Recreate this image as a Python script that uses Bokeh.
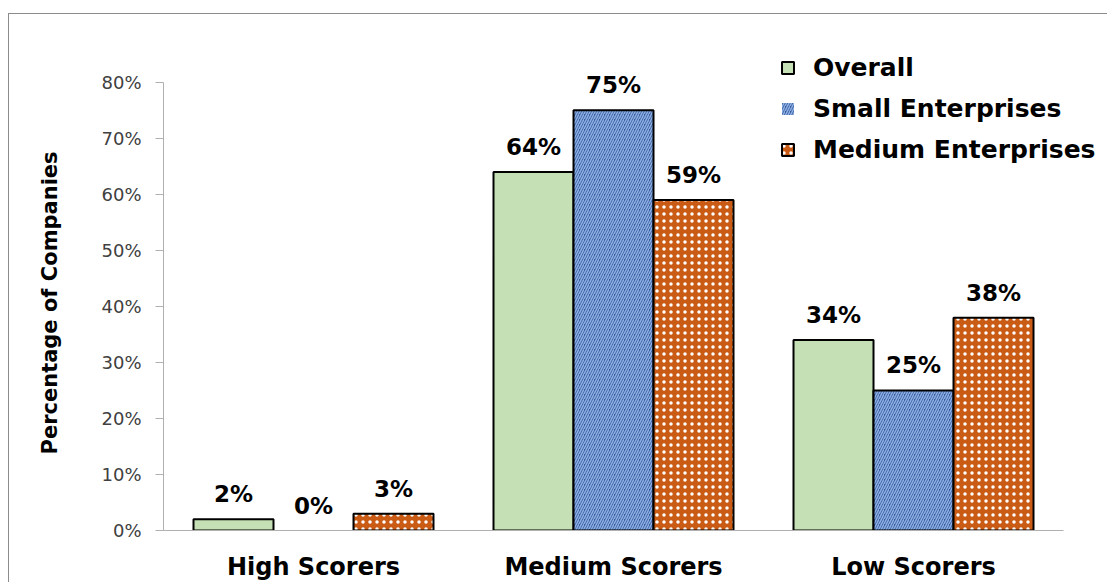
from bokeh.plotting import figure
from bokeh.models import ColumnDataSource, Range1d, Legend, LegendItem, NumeralTickFormatter, FixedTicker, Title
from bokeh.core.properties import value
from bokeh.embed import file_html
from bokeh.resources import INLINE

categories = ["High Scorers", "Medium Scorers", "Low Scorers"]
series = ["Overall", "Small Enterprises", "Medium Enterprises"]
overall = [0.02, 0.64, 0.34]
small = [0.00, 0.75, 0.25]
medium = [0.03, 0.59, 0.38]
y_ticks = [0, 0.1, 0.2, 0.3, 0.4, 0.5, 0.6, 0.7, 0.8]
y_title = "Percentage of Companies"

FONT = "DejaVu Sans"
bw = 0.8 / 3
centers = [i + 0.5 for i in range(len(categories))]

src = ColumnDataSource(dict(
    xc=centers, overall=overall, small=small, medium=medium,
    x_overall=[c - bw for c in centers], x_small=centers, x_medium=[c + bw for c in centers],
    l_overall=[f"{round(v*100)}%" for v in overall],
    l_small=[f"{round(v*100)}%" for v in small],
    l_medium=[f"{round(v*100)}%" for v in medium],
    a_overall=[1 if v > 0 else 0 for v in overall],
    a_small=[1 if v > 0 else 0 for v in small],
    a_medium=[1 if v > 0 else 0 for v in medium],
))

p = figure(x_range=Range1d(0, 3.1333), y_range=Range1d(0, 0.9122),
           width=1099, height=569, output_backend="svg", toolbar_location=None,
           min_border_left=154, min_border_right=5, min_border_top=5, min_border_bottom=52)
p.margin = (13, 0, 0, 8)
p.styles = {"border-left": "1px solid #8c8c8c", "border-top": "1px solid #8c8c8c"}
p.outline_line_color = None
p.xgrid.grid_line_color = None
p.ygrid.grid_line_color = None

r1 = p.vbar(x="x_overall", top="overall", width=bw, source=src,
            fill_color="#c5e0b4", line_color="black", line_width=2, line_alpha="a_overall")
r2 = p.vbar(x="x_small", top="small", width=bw, source=src,
            fill_color="#34589c", hatch_pattern="right_diagonal_line", hatch_color="#8caee2",
            hatch_scale=5, hatch_weight=1.6, line_color="black", line_width=2, line_alpha="a_small")
r3 = p.vbar(x="x_medium", top="medium", width=bw, source=src,
            fill_color="#c95b15", hatch_pattern="dot", hatch_color="white",
            hatch_scale=7, hatch_weight=3, line_color="black", line_width=2, line_alpha="a_medium")

for key in ("overall", "small", "medium"):
    p.text(x="x_" + key, y=key, text="l_" + key, source=src,
           text_align="center", text_baseline="alphabetic", y_offset=-25,
           text_font=value(FONT), text_font_style="bold", text_font_size="23px", text_color="black")

p.yaxis.ticker = FixedTicker(ticks=y_ticks)
p.yaxis.bounds = (0, 0.8)
p.yaxis.formatter = NumeralTickFormatter(format="0%")
p.yaxis.major_label_text_font = FONT
p.yaxis.major_label_text_font_size = "18px"
p.yaxis.major_label_text_color = "#404040"
p.yaxis.major_label_standoff = 14
p.yaxis.axis_line_color = "#b0b0b0"
p.yaxis.major_tick_line_color = "#b0b0b0"
p.yaxis.major_tick_out = 8
p.yaxis.major_tick_in = 0
p.yaxis.minor_tick_line_color = None
p.yaxis.axis_label = " "
p.yaxis.axis_label_text_font_size = "6px"
p.yaxis.axis_label_standoff = 2

yt = Title(text=y_title, align="left", offset=76, text_font=FONT, text_font_style="bold",
           text_font_size="21px", text_color="black", standoff=52)
p.add_layout(yt, "left")

p.xaxis.ticker = FixedTicker(ticks=centers)
p.xaxis.major_label_overrides = {c: name for c, name in zip(centers, categories)}
p.xaxis.bounds = (0, 3)
p.xaxis.axis_line_color = "#b0b0b0"
p.xaxis.major_tick_line_color = None
p.xaxis.minor_tick_line_color = None
p.xaxis.major_label_text_font = FONT
p.xaxis.major_label_text_font_style = "bold"
p.xaxis.major_label_text_font_size = "24px"
p.xaxis.major_label_text_color = "black"
p.xaxis.major_label_standoff = 16

legend = Legend(items=[LegendItem(label=series[0], renderers=[r1]),
                       LegendItem(label=series[1], renderers=[r2]),
                       LegendItem(label=series[2], renderers=[r3])],
                location=(617, 366))
legend.label_text_font = FONT
legend.label_text_font_style = "bold"
legend.label_text_font_size = "25px"
legend.label_text_color = "black"
legend.glyph_width = 15
legend.glyph_height = 15
legend.label_height = 29
legend.spacing = 12
legend.padding = 0
legend.margin = 0
legend.label_standoff = 18
legend.border_line_color = None
legend.background_fill_alpha = 0
p.add_layout(legend, "center")

open("out.html", "w").write(file_html(p, INLINE))
